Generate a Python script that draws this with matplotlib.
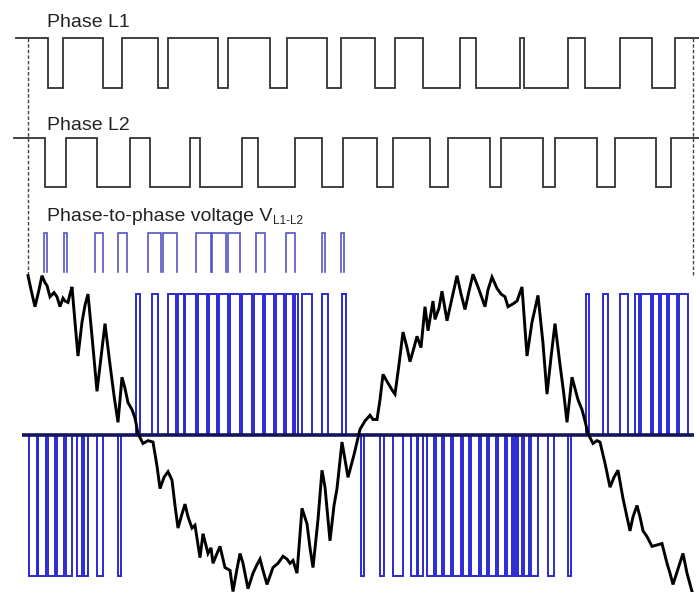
import numpy as np
import matplotlib
matplotlib.use("Agg")
import matplotlib.pyplot as plt

# ---------------- data (time axis in picture time units) ----------------
T_START, T_END = 0, 699

# Phase L1: switching instants, starts high
l1_start = 16
l1_edges = [48, 63, 103, 122, 158, 168, 218, 228, 270, 287, 327, 341,
            375, 395, 423, 460, 476, 520, 524, 568, 585, 620, 652, 675]
# Phase L2: switching instants, starts high
l2_start = 14
l2_edges = [45, 66, 97, 130, 150, 190, 200, 242, 258, 295, 322, 343,
            377, 393, 430, 448, 490, 501, 543, 555, 597, 615, 656, 671]

# Phase-to-phase voltage (small preview) : positive pulse intervals
v_small_pulses = [(44, 47), (64, 67), (95, 103), (118, 127), (148, 161),
                  (163, 177), (196, 211), (212, 226), (228, 240), (256, 265),
                  (286, 295), (322, 325), (341, 344)]

# Phase-to-phase voltage (large view) : positive and negative pulse intervals
v_pos_pulses = [(136, 140), (152, 158), (168, 176), (178, 184), (185, 196),
                (198, 207), (209, 217), (219, 228), (230, 240), (242, 252),
                (254, 263), (265, 274), (276, 284), (286, 293), (295, 298),
                (302, 312), (322, 328), (342, 346),
                (586, 589), (603, 608), (620, 628), (635, 639), (641, 651),
                (653, 659), (661, 667), (669, 677), (679, 688)]
v_neg_pulses = [(29, 37), (38, 46), (48, 55), (57, 64), (66, 72), (77, 82),
                (84, 88), (97, 103), (118, 121),
                (361, 364), (380, 384), (393, 403), (411, 417), (418, 423),
                (427, 434), (436, 442), (444, 451), (453, 461), (463, 469),
                (471, 479), (481, 487), (489, 496), (498, 505), (507, 512),
                (514, 516), (518, 522), (524, 529), (531, 538), (548, 554),
                (568, 571)]
zero_span = (22, 694)

# Phase current (normalised, 1 = pulse height)
cur_t = [28, 32, 35, 39, 42, 45, 47, 50, 54, 57, 60, 63, 65, 68, 70, 72,
         75, 78, 82, 85, 88, 92, 97, 101, 105, 110, 114, 118, 122, 125, 128,
         132, 135, 138, 143, 148, 153, 157, 160, 164, 168, 172, 175, 178, 182,
         185, 188, 192, 195, 200, 203, 208, 211, 213, 217, 220, 225, 230, 233,
         237, 240, 243, 248, 253, 257, 260, 263, 267, 270, 273, 278, 283, 287,
         290, 293, 297, 302, 307, 310, 313, 318, 322, 325, 330, 334, 337, 342,
         348, 354, 360, 365, 370, 373, 377, 380, 383, 387, 392, 395, 399, 403,
         407, 410, 414, 417, 421, 425, 428, 433, 435, 439, 442, 447, 452, 457,
         461, 465, 469, 473, 478, 485, 488, 492, 497, 501, 505, 508, 513, 517,
         522, 527, 532, 538, 543, 547, 551, 555, 560, 564, 567, 572, 575, 578,
         582, 585, 588, 593, 597, 600, 605, 610, 614, 618, 623, 627, 630, 633,
         637, 640, 643, 647, 652, 657, 662, 667, 670, 673, 678, 683, 687, 692]
cur_v = [1.13, 1.00, 0.91, 1.03, 1.13, 1.08, 1.06, 0.98, 1.01, 0.98, 0.91,
         0.97, 0.95, 0.94, 1.00, 1.05, 0.80, 0.56, 0.80, 0.92, 1.00, 0.70,
         0.31, 0.55, 0.79, 0.50, 0.28, 0.09, 0.41, 0.33, 0.23, 0.18, 0.12,
         0.01, -0.06, -0.04, -0.05, -0.22, -0.38, -0.30, -0.26, -0.32, -0.50,
         -0.66, -0.56, -0.49, -0.58, -0.66, -0.64, -0.87, -0.70, -0.84, -0.80,
         -0.91, -0.84, -0.79, -0.94, -0.96, -1.11, -0.95, -0.84, -0.91, -1.09,
         -0.98, -0.92, -0.88, -0.96, -1.06, -1.00, -0.94, -0.91, -0.86, -0.88,
         -0.91, -0.89, -0.98, -0.52, -0.63, -0.80, -0.94, -0.60, -0.25, -0.37,
         -0.75, -0.50, -0.38, -0.05, -0.30, -0.14, 0.04, 0.10, 0.14, 0.11,
         0.11, 0.25, 0.43, 0.38, 0.32, 0.29, 0.50, 0.73, 0.62, 0.52, 0.62,
         0.70, 0.62, 0.91, 0.74, 0.95, 0.82, 0.90, 1.02, 0.81, 0.97, 1.13,
         1.00, 0.89, 1.02, 1.14, 1.05, 0.91, 1.03, 1.12, 1.04, 1.00, 0.98,
         0.91, 0.93, 0.95, 1.05, 0.56, 0.80, 0.99, 0.65, 0.29, 0.55, 0.79,
         0.50, 0.28, 0.09, 0.41, 0.33, 0.25, 0.18, 0.10, 0.01, -0.06, -0.04,
         -0.05, -0.20, -0.37, -0.30, -0.25, -0.45, -0.58, -0.68, -0.58, -0.50,
         -0.58, -0.68, -0.72, -0.79, -0.78, -0.77, -0.91, -0.98, -1.06, -0.95,
         -0.84, -0.98, -1.11]

marker_t = [28, 693]

labels = ["Phase L1", "Phase L2", "Phase-to-phase voltage V"]
v_sub = "L1-L2"

# ---------------- helpers ----------------
def step_xy(start, edges, end, first_level=1):
    xs = [start]
    ys = [first_level]
    lvl = first_level
    for e in edges:
        xs += [e, e]
        ys += [lvl, 1 - lvl]
        lvl = 1 - lvl
    xs.append(end)
    ys.append(lvl)
    return xs, ys

def pulses_xy(intervals, level):
    xs, ys = [], []
    for a, b in intervals:
        xs += [a, a, b, b, np.nan]
        ys += [0, level, level, 0, np.nan]
    return xs, ys

# ---------------- figure ----------------
W, H = 699, 592
fig = plt.figure(figsize=(W / 100, H / 100), dpi=100)
fig.patch.set_facecolor("white")

def px_axes(y_low, y_high):
    """axes whose y-range 0..1 maps to pixel rows y_low (0) .. y_high (1)"""
    ax = fig.add_axes([0, 1 - y_low / H, 1, (y_low - y_high) / H])
    ax.set_xlim(T_START, T_END)
    ax.set_ylim(0, 1)
    ax.axis("off")
    return ax

line_col = "#333333"
font = "Liberation Sans"
fs = 14

ax1 = px_axes(88, 38)
x, y = step_xy(l1_start, l1_edges, T_END)
ax1.plot(x, y, color=line_col, lw=1.3, clip_on=False, solid_joinstyle="miter")

ax2 = px_axes(187, 138)
x, y = step_xy(l2_start, l2_edges, T_END)
ax2.plot(x, y, color=line_col, lw=1.3, clip_on=False, solid_joinstyle="miter")

ax3 = px_axes(272, 233)
x, y = pulses_xy(v_small_pulses, 1)
ax3.plot(x, y, color="#5555c4", lw=1.2, clip_on=False, solid_joinstyle="miter")

# dashed marker lines spanning the upper panels
for t in marker_t:
    ax1.axvline(t, ymin=(88 - 275) / 50, ymax=1, color="#444444", lw=1.0,
                ls=(0, (2.5, 1.5)), clip_on=False)

# big panel: 0 at row 435, 1 at row 294
scale = 141.0
axb = fig.add_axes([0, 0, 1, (592 - 272) / H])
axb.set_xlim(T_START, T_END)
axb.set_ylim(-(592 - 435) / scale, (435 - 272) / scale)
axb.axis("off")
pc = "#2a2ad2"
x, y = pulses_xy(v_pos_pulses, 1)
axb.plot(x, y, color=pc, lw=1.4, solid_joinstyle="miter")
x, y = pulses_xy(v_neg_pulses, -1)
axb.plot(x, y, color=pc, lw=1.4, solid_joinstyle="miter")
axb.hlines(0, zero_span[0], zero_span[1], color="#15155a", lw=2.6, zorder=3)
axb.plot(cur_t, cur_v, color="black", lw=2.1, zorder=4, clip_on=False,
         solid_joinstyle="miter")

# labels
fig.text(47 / W, 1 - 27 / H, labels[0], fontsize=fs, family=font,
         va="baseline", ha="left", color="#222222")
fig.text(47 / W, 1 - 130 / H, labels[1], fontsize=fs, family=font,
         va="baseline", ha="left", color="#222222")
t3 = fig.text(47 / W, 1 - 221 / H, labels[2], fontsize=fs, family=font,
              va="baseline", ha="left", color="#222222")
ax1.annotate(v_sub, xy=(1, 0), xycoords=t3, xytext=(0.3, 0.5),
             textcoords="offset points", fontsize=8.5, family=font,
             va="baseline", ha="left", color="#222222", annotation_clip=False)

fig.savefig("out.png", dpi=100, facecolor="white")
